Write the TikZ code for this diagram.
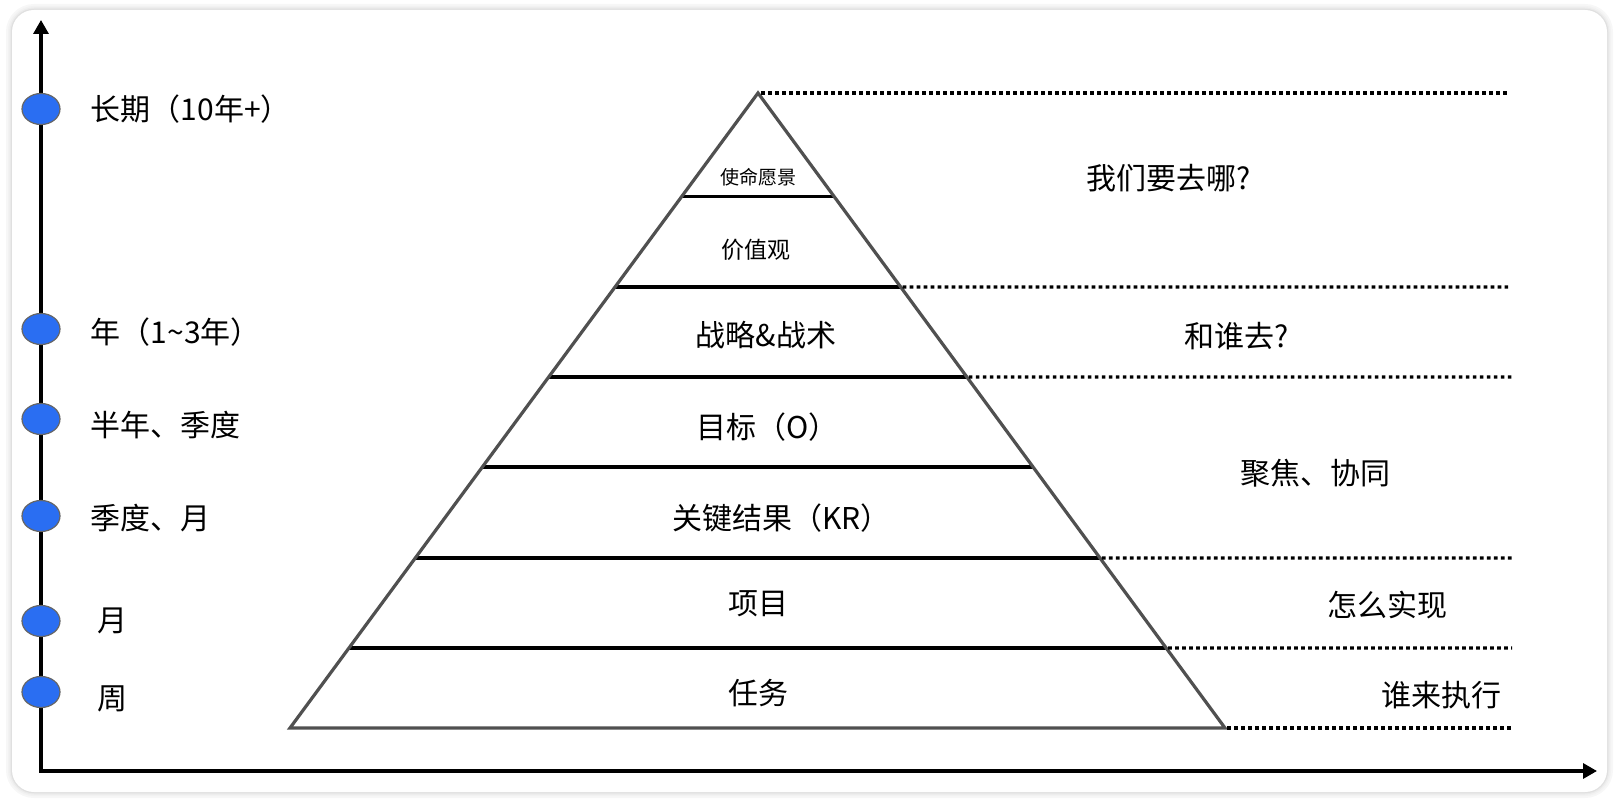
\documentclass[tikz,border=0pt]{standalone}
\usepackage{fontspec}
\newfontfamily\cjk{Noto Sans CJK SC}
\usetikzlibrary{arrows.meta,positioning,calc,shapes.geometric}

\definecolor{dotblue}{RGB}{42,110,242}
\definecolor{edgegray}{RGB}{80,80,80}

\begin{document}
\begin{tikzpicture}[
    x=1pt, y=-1pt,
    font=\cjk,
    txtbig/.style={font=\cjk\fontsize{30}{36}\selectfont, inner sep=0pt},
    txtmid/.style={font=\cjk\fontsize{23}{28}\selectfont, inner sep=0pt},
    txtsmall/.style={font=\cjk\fontsize{19}{23}\selectfont, inner sep=0pt},
    tdot/.style={ellipse, draw=black!60, line width=1.2pt, fill=dotblue,
                 minimum width=38pt, minimum height=31pt, inner sep=0pt},
    axisline/.style={line width=3.2pt,
                     {Triangle[length=14pt,width=15pt]}-{Triangle[length=14pt,width=15pt]}},
    band/.style={line width=3.4pt, black},
    leader/.style={line width=3.2pt, dash pattern=on 3.6pt off 3.4pt},
    ]
\useasboundingbox (0,0) rectangle (1620,805);

% card with a soft shadow
\foreach \w/\c in {12/3,8/5,5/8,2.5/12}
  \draw[rounded corners=22pt, line width=\w pt, black!\c] (12,10) rectangle (1607,792);
\fill[white, rounded corners=22pt] (12,10) rectangle (1607,792);

% time axis
\coordinate (o) at (41,771);
\coordinate (ytip) at (41,20);
\coordinate (xtip) at (1597,771);
\draw[axisline] (ytip) -- (o) -- (xtip);

\node[tdot] (d1) at (41,109) {};
\node[tdot] (d2) at (41,329) {};
\node[tdot] (d3) at (41,419) {};
\node[tdot] (d4) at (41,516) {};
\node[tdot] (d5) at (41,621) {};
\node[tdot] (d6) at (41,692) {};

\node[txtbig, right=30pt of d1] (l1) {长期（10年+）};
\node[txtbig, right=30pt of d2, yshift=-3pt] (l2) {年（1\textasciitilde3年）};
\node[txtbig, right=30pt of d3, yshift=-6pt] (l3) {半年、季度};
\node[txtbig, right=30pt of d4, yshift=-2pt] (l4) {季度、月};
\node[txtbig, right=37pt of d5] (l5) {月};
\node[txtbig, right=37pt of d6, yshift=-7pt] (l6) {周};

% pyramid
\coordinate (apex) at (758,93);
\coordinate (bl) at (290,728);
\coordinate (br) at (1225,728);
\foreach \y [count=\i, evaluate=\y as \t using (\y-93)/635] in {196.5,287,377,467,558,648} {
  \coordinate (L\i) at ($(apex)!\t!(bl)$);
  \coordinate (R\i) at ($(apex)!\t!(br)$);
  \draw[band] (L\i) -- (R\i);
}
\draw[edgegray, line width=3.2pt] (apex) -- (bl) -- (br) -- cycle;

\node[txtsmall] (p1) at (758,177) {使命愿景};
\node[txtmid] (p2) at (756,250) {价值观};
\node[txtbig] (p3) at (766,335) {战略\&战术};
\node[txtbig, anchor=west] (p4) at (696,427) {目标（O）};
\node[txtbig, anchor=west] (p5) at (672,518) {关键结果（KR）};
\node[txtbig] (p6) at (758,604) {项目};
\node[txtbig] (p7) at (758,693) {任务};

% dotted leaders to the right
\coordinate (e0) at (1508,93);
\coordinate (e2) at (1508,287);
\coordinate (e3) at (1512,377);
\coordinate (e5) at (1512,558);
\coordinate (e6) at (1512,648);
\coordinate (e7) at (1512,728);
\draw[leader, shorten <=3pt] (apex) -- (e0);
\draw[leader, shorten <=2pt] (R2) -- (e2);
\draw[leader, shorten <=2pt] (R3) -- (e3);
\draw[leader, shorten <=2pt] (R5) -- (e5);
\draw[leader, shorten <=2pt] (R6) -- (e6);
\draw[leader, shorten <=2pt] (br) -- (e7);

\node[txtbig] (q1) at (1169,178) {我们要去哪?};
\node[txtbig] (q2) at (1237,336) {和谁去?};
\node[txtbig] (q3) at (1315,473) {聚焦、协同};
\node[txtbig] (q4) at (1387,605) {怎么实现};
\node[txtbig] (q5) at (1441,695) {谁来执行};
\end{tikzpicture}
\end{document}
